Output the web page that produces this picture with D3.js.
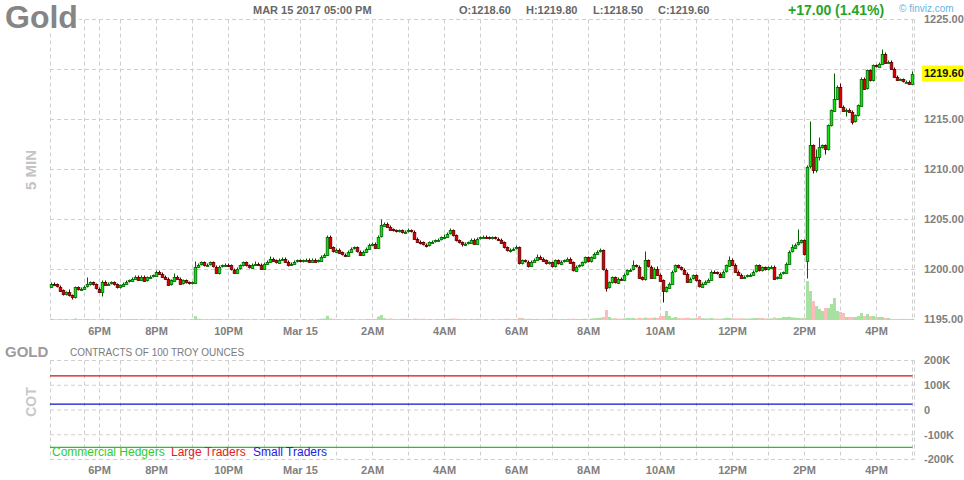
<!DOCTYPE html>
<html><head><meta charset="utf-8">
<script src="https://cdn.jsdelivr.net/npm/d3@7"></script>
<style>
body{margin:0;background:#fff;}
svg text{font-family:"Liberation Sans",Arial,Helvetica,sans-serif;}
</style></head>
<body><svg id="c" width="964" height="480"></svg>
<script>
// ---------------- DATA ----------------
const title = "Gold";
const dateLabel = "MAR 15 2017 05:00 PM";
const ohlcLabels = ["O:1218.60","H:1219.80","L:1218.50","C:1219.60"];
const changeLabel = "+17.00 (1.41%)";
const lastPrice = 1219.60;

const opens = [
1198.3,1198.6,1198.5,1198.3,1197.9,1197.5,1197.7,1197.4,1197.2,1198.2,
1198.0,1198.1,1198.3,1198.5,1198.7,1198.5,1198.1,1197.8,1198.8,1198.5,
1198.6,1198.7,1198.5,1198.2,1198.4,1198.6,1198.8,1198.9,1199.1,1199.3,
1199.0,1199.3,1198.9,1199.2,1199.3,1199.4,1199.8,1199.6,1199.3,1199.1,
1198.5,1198.9,1199.3,1199.1,1198.6,1198.9,1198.7,1198.6,1198.7,1200.3,
1200.5,1200.7,1200.4,1200.5,1200.7,1200.3,1199.7,1200.3,1200.4,1200.5,
1200.4,1200.0,1199.7,1200.1,1200.4,1200.7,1200.4,1200.2,1200.5,1200.6,
1200.5,1200.1,1200.6,1200.8,1201.1,1200.9,1200.7,1201.0,1201.1,1200.8,
1200.5,1200.6,1200.8,1200.9,1200.8,1200.9,1201.0,1200.8,1201.0,1200.8,
1200.9,1201.3,1201.5,1203.3,1202.2,1201.8,1202.0,1201.7,1201.5,1201.4,
1201.8,1202.1,1202.2,1201.8,1201.5,1201.8,1202.1,1202.5,1202.6,1202.2,
1203.3,1204.4,1204.6,1204.3,1204.0,1203.9,1203.8,1203.9,1203.7,1203.8,
1203.9,1203.8,1203.1,1202.8,1202.7,1202.5,1202.4,1202.7,1202.8,1202.9,
1203.0,1203.2,1203.3,1203.6,1203.9,1203.4,1202.9,1202.7,1202.5,1202.6,
1202.7,1203.0,1202.6,1203.1,1203.2,1203.3,1203.2,1203.1,1203.2,1203.1,
1203.0,1202.7,1202.2,1201.9,1202.0,1202.1,1202.2,1200.6,1200.9,1200.8,
1200.4,1200.8,1201.0,1201.3,1201.1,1200.9,1200.6,1200.7,1200.3,1200.9,
1200.6,1200.8,1200.9,1201.1,1200.7,1199.9,1200.3,1200.4,1200.7,1201.2,
1200.8,1201.2,1201.6,1201.8,1201.9,1200.0,1198.2,1198.7,1199.2,1198.7,
1199.1,1199.0,1199.5,1199.9,1200.0,1200.4,1200.3,1199.2,1199.0,1200.9,
1200.3,1199.2,1200.1,1199.5,1198.9,1197.8,1198.2,1198.6,1199.8,1200.4,
1200.2,1200.0,1199.6,1198.8,1199.1,1199.4,1198.9,1198.3,1198.6,1198.8,
1199.0,1199.8,1199.7,1199.6,1199.3,1199.8,1200.4,1201.0,1200.5,1199.8,
1199.5,1199.2,1199.3,1199.4,1199.5,1199.8,1200.4,1199.9,1200.2,1200.0,
1200.2,1200.3,1199.1,1199.2,1199.6,1199.7,1200.6,1201.8,1202.2,1202.5,
1202.7,1202.9,1200.9,1210.3,1212.4,1209.9,1211.2,1212.2,1212.4,1212.0,
1214.4,1215.9,1217.1,1218.3,1216.3,1215.9,1216.0,1215.8,1214.8,1215.4,
1216.4,1219.1,1218.1,1219.9,1218.9,1220.4,1220.3,1220.6,1221.6,1220.7,
1220.8,1220.1,1219.3,1219.0,1219.0,1218.8,1218.8,1218.6];

const highs = [
1198.7,1198.7,1198.6,1198.4,1198.0,1197.8,1198.0,1197.5,1198.3,1198.3,
1198.2,1198.4,1199.2,1198.8,1198.8,1198.6,1198.2,1198.9,1198.9,1198.7,
1198.8,1198.8,1198.6,1198.5,1198.7,1198.9,1199.0,1199.2,1199.4,1199.4,
1199.4,1199.4,1199.3,1199.4,1199.5,1199.9,1199.9,1199.7,1199.4,1199.2,
1199.0,1199.6,1199.4,1199.2,1199.0,1199.0,1198.8,1198.8,1200.8,1200.6,
1200.8,1200.8,1200.6,1200.8,1200.8,1200.4,1200.4,1200.5,1200.6,1200.6,
1200.5,1200.1,1200.2,1200.5,1200.8,1200.8,1200.5,1200.6,1200.8,1200.7,
1200.6,1200.7,1200.9,1201.3,1201.2,1201.0,1201.1,1201.2,1201.2,1200.9,
1200.7,1200.9,1201.0,1201.0,1201.0,1201.1,1201.1,1201.1,1201.1,1201.0,
1201.4,1201.6,1203.4,1203.4,1202.3,1202.1,1202.1,1201.8,1201.6,1201.9,
1202.2,1202.3,1202.3,1201.9,1201.9,1202.2,1202.6,1202.7,1202.7,1203.4,
1205.0,1204.7,1204.7,1204.4,1204.1,1204.0,1204.0,1204.0,1203.9,1204.1,
1204.0,1203.9,1203.2,1202.9,1202.8,1202.6,1202.8,1202.9,1203.0,1203.1,
1203.3,1203.5,1203.7,1204.1,1204.0,1203.5,1203.0,1202.8,1202.7,1202.8,
1203.1,1203.1,1203.2,1203.3,1203.4,1203.4,1203.3,1203.3,1203.3,1203.2,
1203.1,1202.8,1202.3,1202.1,1202.2,1202.4,1202.3,1201.0,1201.0,1200.9,
1200.9,1201.1,1201.5,1201.4,1201.2,1201.0,1200.8,1200.8,1201.0,1201.0,
1200.9,1201.0,1201.2,1201.2,1200.8,1200.4,1200.5,1200.8,1201.3,1201.3,
1201.3,1201.7,1201.9,1202.1,1202.0,1200.1,1198.8,1199.3,1199.3,1199.2,
1199.2,1199.6,1200.0,1200.1,1200.9,1200.5,1200.4,1199.3,1201.8,1201.0,
1200.4,1200.2,1200.3,1199.6,1199.0,1198.3,1198.7,1199.9,1200.5,1200.5,
1200.3,1200.1,1199.7,1199.2,1199.5,1199.5,1199.0,1198.7,1198.9,1199.1,
1199.9,1199.9,1199.8,1199.7,1199.9,1200.5,1201.3,1201.1,1200.6,1199.9,
1199.6,1199.4,1199.5,1199.6,1199.9,1200.5,1200.5,1200.3,1200.3,1200.3,
1200.4,1200.4,1199.3,1199.7,1199.8,1200.7,1201.9,1202.5,1202.6,1204.0,
1203.0,1203.0,1210.4,1214.8,1212.5,1212.0,1213.2,1212.5,1212.5,1214.5,
1216.0,1219.6,1218.4,1218.6,1216.4,1216.1,1216.1,1215.9,1215.5,1216.5,
1219.2,1219.2,1220.0,1220.0,1220.5,1220.5,1220.7,1222.0,1221.7,1220.9,
1220.9,1220.2,1219.4,1219.1,1219.1,1218.9,1218.9,1219.8];

const lows = [
1198.2,1198.4,1198.2,1197.8,1197.4,1197.4,1197.3,1197.0,1197.1,1197.9,
1197.9,1198.0,1198.2,1198.4,1198.4,1198.0,1197.7,1197.3,1198.4,1198.4,
1198.5,1198.4,1198.1,1198.1,1198.3,1198.5,1198.7,1198.8,1199.0,1198.9,
1198.9,1198.8,1198.8,1199.1,1199.2,1199.3,1199.5,1199.2,1199.0,1198.4,
1198.4,1198.8,1199.0,1198.5,1198.5,1198.6,1198.5,1198.5,1198.6,1200.2,
1200.4,1200.3,1200.3,1200.4,1200.2,1199.6,1199.5,1200.2,1200.3,1200.3,
1199.9,1199.6,1199.6,1200.0,1200.3,1200.3,1200.1,1200.1,1200.4,1200.4,
1200.0,1200.0,1200.5,1200.7,1200.8,1200.6,1200.6,1200.9,1200.7,1200.3,
1200.4,1200.5,1200.7,1200.7,1200.7,1200.8,1200.7,1200.7,1200.7,1200.7,
1200.8,1201.2,1201.4,1202.1,1201.7,1201.7,1201.6,1201.4,1201.3,1201.3,
1201.7,1202.0,1201.7,1201.4,1201.4,1201.7,1202.0,1202.4,1202.1,1202.1,
1203.2,1204.3,1204.2,1203.9,1203.8,1203.7,1203.7,1203.6,1203.6,1203.7,
1203.7,1203.0,1202.7,1202.5,1202.4,1202.2,1202.3,1202.6,1202.7,1202.8,
1202.9,1203.1,1203.2,1203.5,1203.3,1202.8,1202.6,1202.3,1202.4,1202.5,
1202.6,1202.5,1202.5,1203.0,1203.1,1203.1,1203.0,1203.0,1203.0,1202.9,
1202.6,1202.1,1201.8,1201.7,1201.9,1202.0,1200.5,1200.5,1200.7,1200.2,
1200.3,1200.7,1200.9,1201.0,1200.8,1200.5,1200.5,1200.2,1200.2,1200.5,
1200.5,1200.7,1200.8,1200.6,1199.8,1199.8,1200.2,1200.3,1200.6,1200.7,
1200.7,1201.1,1201.5,1201.7,1199.9,1197.8,1198.1,1198.6,1198.6,1198.6,
1198.9,1198.9,1199.4,1199.8,1199.9,1200.2,1199.1,1198.9,1198.9,1200.2,
1199.1,1199.1,1199.4,1198.8,1196.7,1197.7,1198.1,1198.5,1199.7,1200.1,
1199.9,1199.5,1198.7,1198.7,1199.0,1198.8,1198.2,1198.2,1198.5,1198.7,
1198.9,1199.6,1199.5,1199.2,1199.2,1199.7,1200.3,1200.4,1199.7,1199.4,
1199.1,1199.1,1199.2,1199.3,1199.4,1199.7,1199.8,1199.8,1199.9,1199.9,
1200.1,1199.0,1199.0,1199.1,1199.5,1199.6,1200.5,1201.7,1202.1,1202.4,
1202.6,1201.4,1199.1,1210.1,1209.6,1209.7,1210.9,1212.1,1211.5,1211.9,
1214.3,1215.8,1217.0,1216.2,1215.8,1215.3,1215.7,1214.5,1214.7,1215.3,
1216.3,1218.0,1218.0,1218.8,1218.8,1220.2,1220.2,1220.5,1220.6,1220.6,
1220.0,1219.2,1218.9,1218.9,1218.7,1218.7,1218.5,1218.5];

const closes = [
1198.6,1198.5,1198.3,1197.9,1197.5,1197.7,1197.4,1197.2,1198.2,1198.0,
1198.1,1198.3,1198.5,1198.7,1198.5,1198.1,1197.8,1198.8,1198.5,1198.6,
1198.7,1198.5,1198.2,1198.4,1198.6,1198.8,1198.9,1199.1,1199.3,1199.0,
1199.3,1198.9,1199.2,1199.3,1199.4,1199.8,1199.6,1199.3,1199.1,1198.5,
1198.9,1199.3,1199.1,1198.6,1198.9,1198.7,1198.6,1198.7,1200.3,1200.5,
1200.7,1200.4,1200.5,1200.7,1200.3,1199.7,1200.3,1200.4,1200.5,1200.4,
1200.0,1199.7,1200.1,1200.4,1200.7,1200.4,1200.2,1200.5,1200.6,1200.5,
1200.1,1200.6,1200.8,1201.1,1200.9,1200.7,1201.0,1201.1,1200.8,1200.5,
1200.6,1200.8,1200.9,1200.8,1200.9,1201.0,1200.8,1201.0,1200.8,1200.9,
1201.3,1201.5,1203.3,1202.2,1201.8,1202.0,1201.7,1201.5,1201.4,1201.8,
1202.1,1202.2,1201.8,1201.5,1201.8,1202.1,1202.5,1202.6,1202.2,1203.3,
1204.4,1204.6,1204.3,1204.0,1203.9,1203.8,1203.9,1203.7,1203.8,1203.9,
1203.8,1203.1,1202.8,1202.7,1202.5,1202.4,1202.7,1202.8,1202.9,1203.0,
1203.2,1203.3,1203.6,1203.9,1203.4,1202.9,1202.7,1202.5,1202.6,1202.7,
1203.0,1202.6,1203.1,1203.2,1203.3,1203.2,1203.1,1203.2,1203.1,1203.0,
1202.7,1202.2,1201.9,1202.0,1202.1,1202.2,1200.6,1200.9,1200.8,1200.4,
1200.8,1201.0,1201.3,1201.1,1200.9,1200.6,1200.7,1200.3,1200.9,1200.6,
1200.8,1200.9,1201.1,1200.7,1199.9,1200.3,1200.4,1200.7,1201.2,1200.8,
1201.2,1201.6,1201.8,1201.9,1200.0,1198.2,1198.7,1199.2,1198.7,1199.1,
1199.0,1199.5,1199.9,1200.0,1200.4,1200.3,1199.2,1199.0,1200.9,1200.3,
1199.2,1200.1,1199.5,1198.9,1197.8,1198.2,1198.6,1199.8,1200.4,1200.2,
1200.0,1199.6,1198.8,1199.1,1199.4,1198.9,1198.3,1198.6,1198.8,1199.0,
1199.8,1199.7,1199.6,1199.3,1199.8,1200.4,1201.0,1200.5,1199.8,1199.5,
1199.2,1199.3,1199.4,1199.5,1199.8,1200.4,1199.9,1200.2,1200.0,1200.2,
1200.3,1199.1,1199.2,1199.6,1199.7,1200.6,1201.8,1202.2,1202.5,1202.7,
1202.9,1201.5,1210.3,1212.4,1209.9,1211.2,1212.2,1212.4,1212.0,1214.4,
1215.9,1217.1,1218.3,1216.3,1215.9,1216.0,1215.8,1214.8,1215.4,1216.4,
1219.1,1218.1,1219.9,1218.9,1220.4,1220.3,1220.6,1221.6,1220.7,1220.8,
1220.1,1219.3,1219.0,1219.0,1218.8,1218.8,1218.6,1219.6];

const volumes = [
120,80,60,90,70,100,60,80,150,70,
60,80,90,70,60,50,80,120,70,60,
50,60,70,40,60,80,60,90,100,70,
80,70,60,50,60,110,70,60,50,90,
60,80,70,60,50,40,60,70,380,120,
90,70,60,80,60,110,90,60,50,60,
70,80,60,70,90,60,50,70,60,50,
60,70,80,90,60,50,70,60,70,60,
50,60,70,50,60,50,60,70,50,60,
120,150,420,160,110,80,70,60,60,70,
90,70,60,80,70,90,100,80,120,350,
500,180,120,150,110,90,80,130,100,90,
80,140,120,100,130,90,80,70,60,80,
90,80,110,120,150,130,110,90,80,70,
100,90,110,80,60,70,60,70,60,70,
80,110,130,80,70,90,220,180,120,130,
100,90,110,80,90,100,80,120,110,90,
90,80,110,120,140,100,90,110,120,80,
150,180,200,220,300,1000,300,150,180,120,
140,160,200,180,200,150,220,180,240,200,
220,240,200,380,400,900,400,220,300,200,
180,200,240,160,150,200,380,180,160,150,
200,150,140,130,160,220,200,170,160,150,
170,150,140,160,180,200,220,180,160,150,
160,260,180,200,300,300,320,260,220,200,
180,220,3900,2900,1900,1400,1100,900,1200,1200,
1600,2200,900,800,700,300,300,300,300,400,
700,400,600,400,400,300,300,300,200,200,
100,100,100,100,120,100,100,110];

// hourly gridline positions (candle index) and 2-hour tick labels
const hourGridIdx = [11,16,23,35,47,59,71,83,95,107,119,131,143,155,167,179,191,203,215,227,239,251,263,275,287];
const tickIdx = [16,35,59,83,107,131,155,179,203,227,251,275];
const tickLabels = ["6PM","8PM","10PM","Mar 15","2AM","4AM","6AM","8AM","10AM","12PM","2PM","4PM"];
const priceTicks = [1195,1200,1205,1210,1215,1220,1225];

// COT panel
const cotTicks = [-200000,-100000,0,100000,200000];
const cotTickLabels = ["-200K","-100K","0","100K","200K"];
const cotSeries = ["Commercial Hedgers","Large Traders","Small Traders"];
const cotColors = ["#22c322","#d01010","#1010d0"];
const cotLegendColors = ["#33cc33","#dd2222","#2222dd"];
const cotIdx = [0, 287];
const cotCommercial = [-151000, -151000];
const cotLarge = [138000, 138000];
const cotSmall = [24000, 24000];

// ---------------- DRAW ----------------
const svg = d3.select("#c");
const n = closes.length;
const x = d3.scaleLinear().domain([-0.5, n - 0.5]).range([50, 50 + 3 * n]);
const y = d3.scaleLinear().domain([1195, 1225]).range([319.5, 19.5]);
const yVol = d3.scaleLinear().domain([0, 30000]).range([320, 20]);
const yCot = d3.scaleLinear().domain([-200000, 200000]).range([459.5, 360.5]);
const left = 50, right = 914.5;
const grid = "#cfcfcf", dash = "4,3";
const axisColor = "#808080";

// --- main panel grid
const gMain = svg.append("g");
gMain.selectAll("line.h").data(priceTicks).join("line")
  .attr("x1", left).attr("x2", right)
  .attr("y1", d => y(d)).attr("y2", d => y(d))
  .attr("stroke", grid).attr("stroke-dasharray", dash);
gMain.selectAll("line.v").data(hourGridIdx).join("line").attr("class","v")
  .attr("x1", d => x(d)).attr("x2", d => x(d))
  .attr("y1", y(1225)).attr("y2", y(1195))
  .attr("stroke", grid).attr("stroke-dasharray", dash);
[left + 0.5, right].forEach(px => gMain.append("line")
  .attr("x1", px).attr("x2", px).attr("y1", y(1225)).attr("y2", y(1195))
  .attr("stroke", grid).attr("stroke-dasharray", dash));

// --- volume
const idx = d3.range(n);
const isUp = i => closes[i] >= opens[i];
svg.append("g").selectAll("rect").data(idx).join("rect")
  .attr("x", i => x(i) - 1.5).attr("width", 3)
  .attr("y", i => yVol(volumes[i])).attr("height", i => yVol(0) - yVol(volumes[i]))
  .attr("fill", i => isUp(i) ? "#a8e2a2" : "#ffbcbc");

// --- candles
const gC = svg.append("g");
gC.selectAll("line").data(idx).join("line")
  .attr("x1", i => x(i)).attr("x2", i => x(i))
  .attr("y1", i => y(highs[i])).attr("y2", i => y(lows[i]))
  .attr("stroke", i => isUp(i) ? "#005f00" : "#5a0000").attr("stroke-width", 1);
gC.selectAll("rect").data(idx).join("rect")
  .attr("x", i => x(i) - 1.3).attr("width", 2.6)
  .attr("y", i => Math.round(Math.min(y(opens[i]), y(closes[i]))) + 0.5)
  .attr("height", i => Math.max(1, Math.round(Math.abs(y(opens[i]) - y(closes[i])))))
  .attr("fill", i => isUp(i) ? "#10e010" : "#d80000")
  .attr("stroke", i => isUp(i) ? "#006400" : "#5c0000").attr("stroke-width", 0.8);

// --- price axis labels (the label hidden behind the last-price box is skipped)
svg.append("g").selectAll("text").data(priceTicks.filter(d => Math.abs(y(d) - y(lastPrice)) > 12)).join("text")
  .attr("x", 924).attr("y", d => y(d)).attr("dy", "0.35em")
  .attr("font-size", 11).attr("font-weight", "bold").attr("fill", axisColor)
  .text(d => d.toFixed(2));
svg.append("rect").attr("x", 922).attr("y", y(lastPrice) - 8).attr("width", 41).attr("height", 16).attr("fill", "#ffff00");
svg.append("text").attr("x", 924).attr("y", y(lastPrice)).attr("dy", "0.35em")
  .attr("font-size", 11).attr("font-weight", "bold").attr("fill", "#111").text(lastPrice.toFixed(2));

// --- time labels (both panels)
[335, 474].forEach(base => {
  svg.append("g").selectAll("text").data(tickIdx).join("text")
    .attr("x", d => x(d)).attr("y", base).attr("text-anchor", "middle")
    .attr("font-size", 11).attr("font-weight", "bold").attr("fill", axisColor)
    .text((d, k) => tickLabels[k]);
});

// --- header
svg.append("rect").attr("x", 0).attr("y", 0).attr("width", 79).attr("height", 31).attr("fill", "#fff");
svg.append("text").attr("x", 5).attr("y", 28).attr("font-size", 32).attr("font-weight", "bold")
  .attr("fill", "#858585").text(title);
svg.append("text").attr("x", 253).attr("y", 14).attr("font-size", 11).attr("font-weight", "bold")
  .attr("fill", "#666").text(dateLabel);
const ohlcX = [459, 526, 593, 658];
ohlcLabels.forEach((t, k) => svg.append("text").attr("x", ohlcX[k]).attr("y", 14)
  .attr("font-size", 11).attr("font-weight", "bold").attr("fill", "#666").text(t));
svg.append("text").attr("x", 788).attr("y", 15).attr("font-size", 14).attr("font-weight", "bold")
  .attr("fill", "#27a327").text(changeLabel);
svg.append("text").attr("x", 899).attr("y", 12).attr("font-size", 10)
  .attr("fill", "#68b4e4").text("\u00A9 finviz.com");
svg.append("text").attr("transform", "translate(36,170) rotate(-90)").attr("text-anchor", "middle")
  .attr("font-size", 15).attr("font-weight", "bold").attr("fill", "#c4c4c4").text("5 MIN");

// --- COT panel
const gCot = svg.append("g");
gCot.selectAll("line.h").data(cotTicks).join("line")
  .attr("x1", left).attr("x2", right)
  .attr("y1", d => yCot(d)).attr("y2", d => yCot(d))
  .attr("stroke", grid).attr("stroke-dasharray", dash);
gCot.selectAll("line.v").data(hourGridIdx).join("line").attr("class","v")
  .attr("x1", d => x(d)).attr("x2", d => x(d))
  .attr("y1", yCot(200000)).attr("y2", yCot(-200000))
  .attr("stroke", grid).attr("stroke-dasharray", dash);
[left + 0.5, right].forEach(px => gCot.append("line")
  .attr("x1", px).attr("x2", px).attr("y1", yCot(200000)).attr("y2", yCot(-200000))
  .attr("stroke", grid).attr("stroke-dasharray", dash));

const cotData = [cotCommercial, cotLarge, cotSmall];
const line = d3.line().x((d, k) => k === 0 ? left : x(cotIdx[k])).y(d => yCot(d));
cotData.forEach((s, k) => gCot.append("path").attr("d", line(s))
  .attr("fill", "none").attr("stroke", cotColors[k]).attr("stroke-width", 1.3));

svg.append("g").selectAll("text").data(cotTicks).join("text")
  .attr("x", 924).attr("y", d => yCot(d)).attr("dy", "0.35em")
  .attr("font-size", 11).attr("font-weight", "bold").attr("fill", axisColor)
  .text((d, k) => cotTickLabels[k]);

svg.append("text").attr("x", 5).attr("y", 357).attr("font-size", 15).attr("font-weight", "bold")
  .attr("fill", "#9c9c9c").text("GOLD");
svg.append("text").attr("x", 70).attr("y", 356).attr("font-size", 10)
  .attr("fill", "#7a7a7a").text("CONTRACTS OF 100 TROY OUNCES");
svg.append("text").attr("transform", "translate(36,402) rotate(-90)").attr("text-anchor", "middle")
  .attr("font-size", 14).attr("font-weight", "bold").attr("fill", "#c8c8c8").text("COT");

const legendX = [52, 171, 253];
cotSeries.forEach((name, k) => {
  svg.append("text").attr("x", legendX[k]).attr("y", 456).attr("font-size", 12)
    .attr("textLength", null)
    .attr("fill", cotLegendColors[k]).text(name);
});
</script></body></html>
